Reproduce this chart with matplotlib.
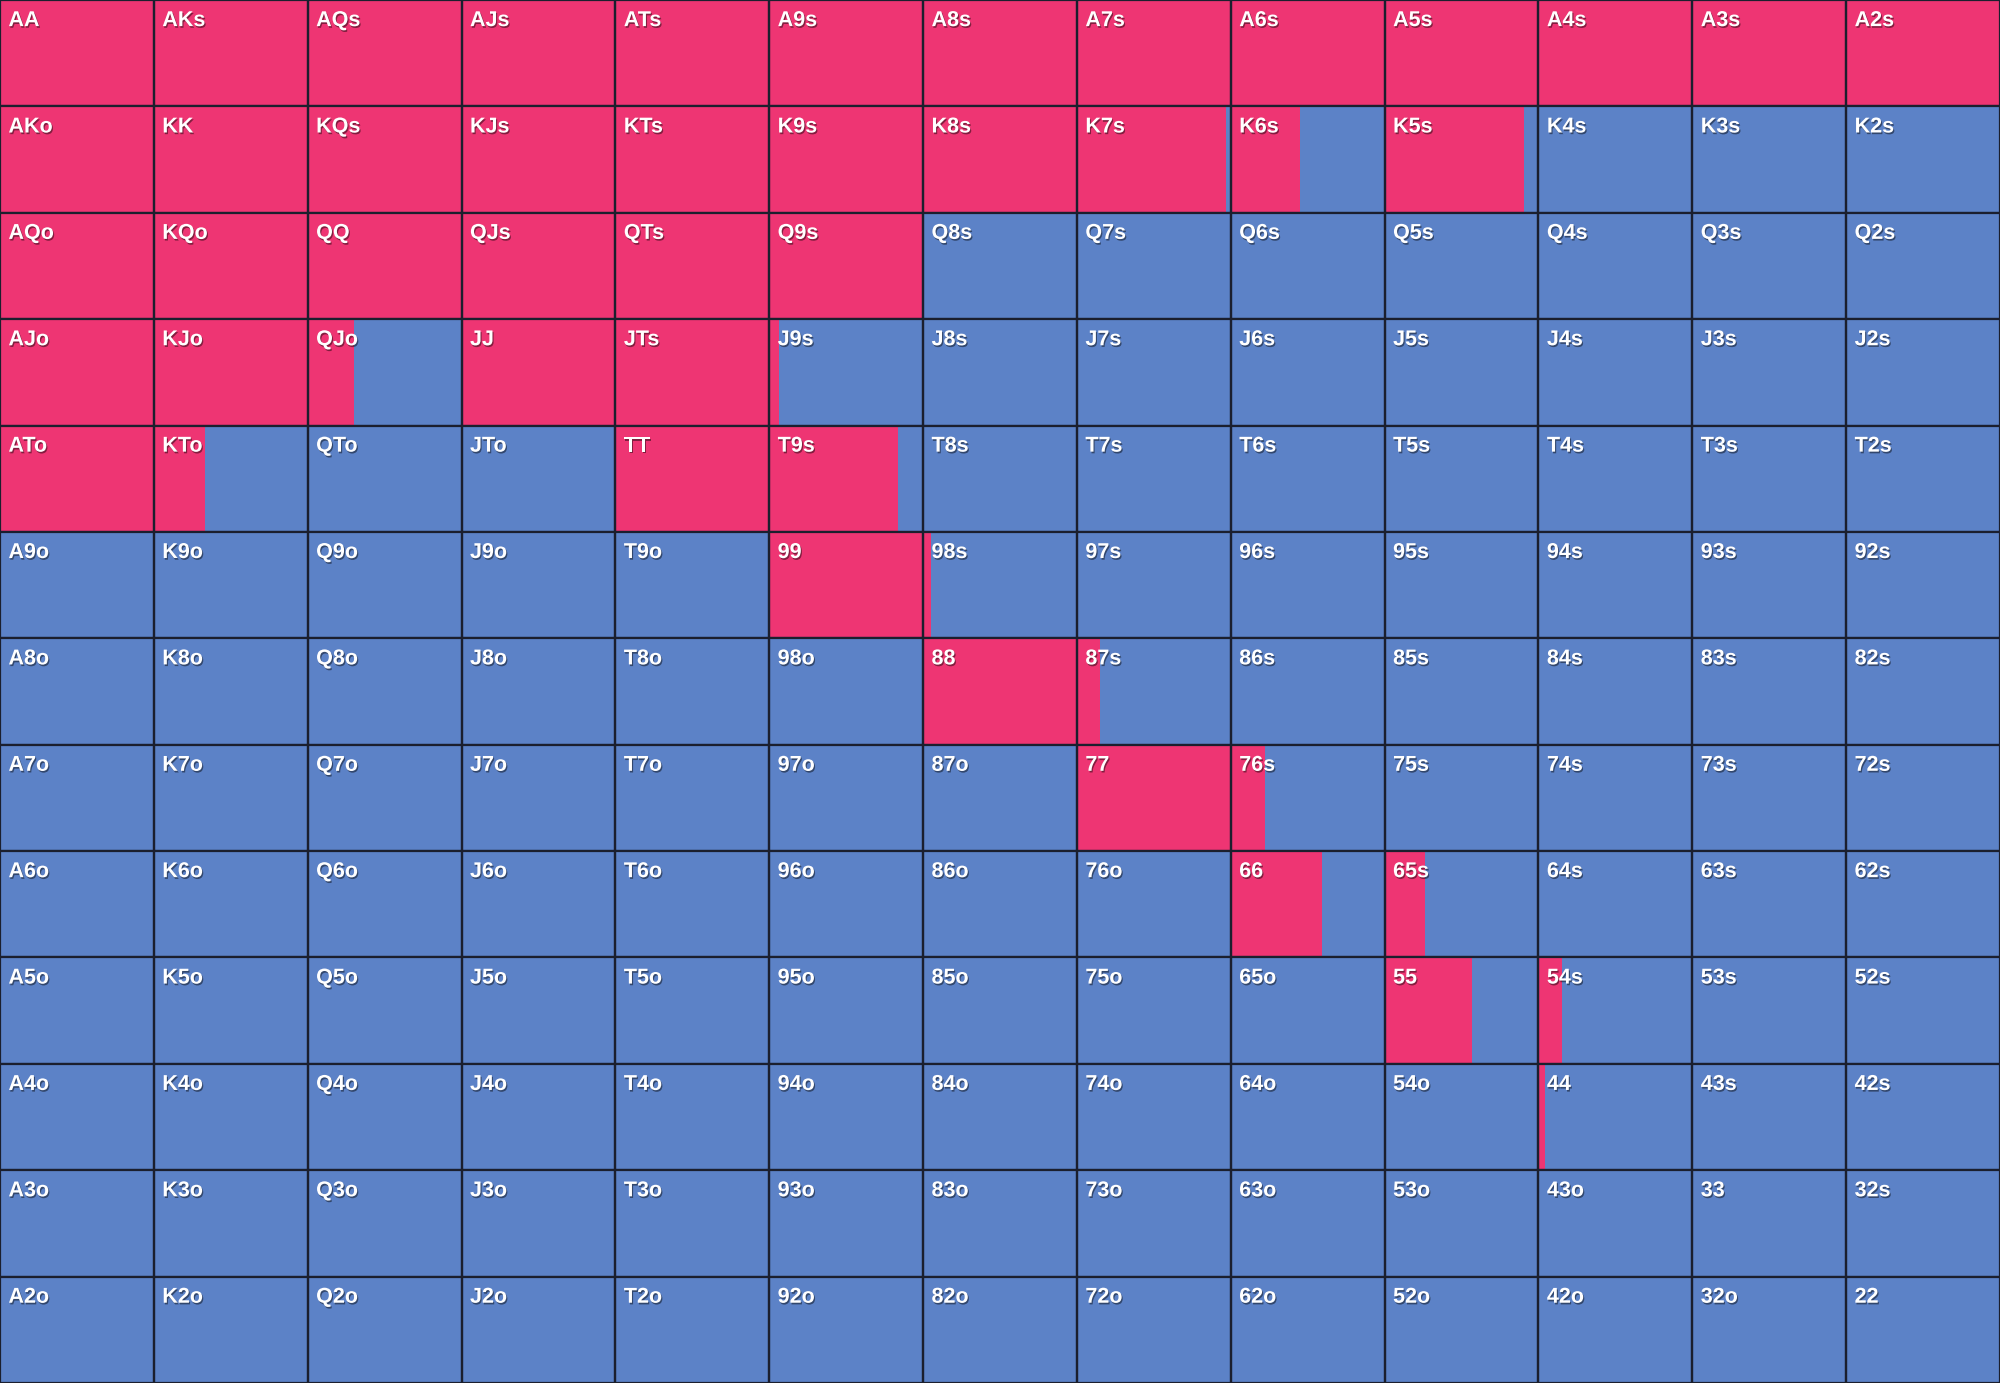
import matplotlib
matplotlib.use("Agg")
import matplotlib.pyplot as plt
import matplotlib.patheffects as pe
import numpy as np

ranks = list("AKQJT98765432")

# fraction of each cell coloured red (raise), rest blue
raise_freq = [
    [1, 1, 1, 1, 1, 1, 1, 1, 1, 1, 1, 1, 1],
    [1, 1, 1, 1, 1, 1, 1, 0.97, 0.45, 0.905, 0, 0, 0],
    [1, 1, 1, 1, 1, 1, 0, 0, 0, 0, 0, 0, 0],
    [1, 1, 0.30, 1, 1, 0.065, 0, 0, 0, 0, 0, 0, 0],
    [1, 0.33, 0, 0, 1, 0.84, 0, 0, 0, 0, 0, 0, 0],
    [0, 0, 0, 0, 0, 1, 0.05, 0, 0, 0, 0, 0, 0],
    [0, 0, 0, 0, 0, 0, 1, 0.15, 0, 0, 0, 0, 0],
    [0, 0, 0, 0, 0, 0, 0, 1, 0.22, 0, 0, 0, 0],
    [0, 0, 0, 0, 0, 0, 0, 0, 0.59, 0.265, 0, 0, 0],
    [0, 0, 0, 0, 0, 0, 0, 0, 0, 0.57, 0.15, 0, 0],
    [0, 0, 0, 0, 0, 0, 0, 0, 0, 0, 0.04, 0, 0],
    [0, 0, 0, 0, 0, 0, 0, 0, 0, 0, 0, 0, 0],
    [0, 0, 0, 0, 0, 0, 0, 0, 0, 0, 0, 0, 0],
]

RED = "#EE3573"
BLUE = "#5C82C7"
EDGE = "#1b1f2e"

n = len(ranks)
freq = np.array(raise_freq, dtype=float)

fig = plt.figure(figsize=(20, 13.83), dpi=100)
ax = fig.add_axes([0, 0, 1, 1])
ax.set_xlim(0, n)
ax.set_ylim(n, 0)
ax.axis("off")

for r in range(n):
    cols = np.arange(n)
    ax.barh([r + 0.5] * n, freq[r], left=cols, height=1.0, color=RED, edgecolor="none", linewidth=0)
    ax.barh([r + 0.5] * n, 1 - freq[r], left=cols + freq[r], height=1.0, color=BLUE, edgecolor="none", linewidth=0)
    ax.barh([r + 0.5] * n, [1] * n, left=cols, height=1.0, color="none", edgecolor=EDGE, linewidth=1.6)

shadow = [pe.SimplePatchShadow(offset=(0.8, -1.2), shadow_rgbFace="black", alpha=0.45), pe.Normal()]
for r in range(n):
    for c in range(n):
        if r == c:
            lab = ranks[r] + ranks[c]
        elif r < c:
            lab = ranks[r] + ranks[c] + "s"
        else:
            lab = ranks[c] + ranks[r] + "o"
        ax.text(c + 0.055, r + 0.095, lab, ha="left", va="top", color="white",
                fontsize=15.5, fontweight="bold", family=["Liberation Sans", "DejaVu Sans"],
                path_effects=shadow)

fig.savefig("out.png", dpi=100)
